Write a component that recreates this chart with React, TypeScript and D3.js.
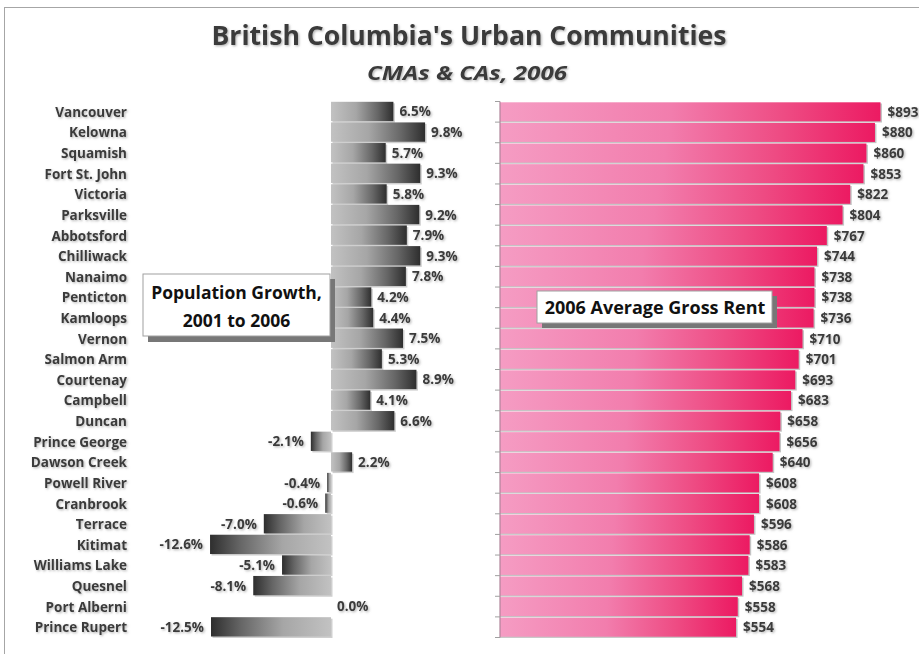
import React from "react";
import * as d3 from "d3";

const categories = [
  "Vancouver", "Kelowna", "Squamish", "Fort St. John", "Victoria", "Parksville",
  "Abbotsford", "Chilliwack", "Nanaimo", "Penticton", "Kamloops", "Vernon",
  "Salmon Arm", "Courtenay", "Campbell", "Duncan", "Prince George", "Dawson Creek",
  "Powell River", "Cranbrook", "Terrace", "Kitimat", "Williams Lake", "Quesnel",
  "Port Alberni", "Prince Rupert",
];
const growth = [
  6.5, 9.8, 5.7, 9.3, 5.8, 9.2, 7.9, 9.3, 7.8, 4.2, 4.4, 7.5, 5.3, 8.9, 4.1, 6.6,
  -2.1, 2.2, -0.4, -0.6, -7.0, -12.6, -5.1, -8.1, 0.0, -12.5,
];
const rent = [
  893, 880, 860, 853, 822, 804, 767, 744, 738, 738, 736, 710, 701, 693, 683, 658,
  656, 640, 608, 608, 596, 586, 583, 568, 558, 554,
];

const W = 919;
const H = 654;
const FONT = "'Open Sans', 'DejaVu Sans', sans-serif";
const TXT = "#3a3a3a";
const LBL = 13.5;

export default function App() {
  const y = d3.scaleBand<string>().domain(categories).range([101.5, 637.5]).padding(0);
  const xg = d3.scaleLinear().domain([-13, 10]).range([331 - 13 * 9.6, 331 + 10 * 9.6]);
  const xr = d3.scaleLinear().domain([0, 1000]).range([500, 500 + (380.5 / 893) * 1000]);
  const bw = y.bandwidth();
  const fmtPct = (v: number) => d3.format(".1f")(v).replace("\u2212", "-") + "%";
  const ticks = d3.range(categories.length + 1).map((i) => 101.5 + i * bw);

  return (
    <svg width={W} height={H} style={{ position: "absolute", left: 0, top: 0 }} fontFamily={FONT}>
      <defs>
        <filter id="ts" x="-20%" y="-40%" width="140%" height="180%">
          <feDropShadow dx="1.2" dy="1.2" stdDeviation="0.9" floodColor="#777" floodOpacity="0.55" />
        </filter>
        <linearGradient id="gpos" x1="0" x2="1" y1="0" y2="0">
          <stop offset="0" stopColor="#c2c2c2" />
          <stop offset="0.4" stopColor="#a6a6a6" />
          <stop offset="0.75" stopColor="#666" />
          <stop offset="1" stopColor="#2e2e2e" />
        </linearGradient>
        <linearGradient id="gneg" x1="1" x2="0" y1="0" y2="0">
          <stop offset="0" stopColor="#c2c2c2" />
          <stop offset="0.4" stopColor="#a6a6a6" />
          <stop offset="0.75" stopColor="#666" />
          <stop offset="1" stopColor="#2e2e2e" />
        </linearGradient>
        <linearGradient id="gpink" x1="0" x2="1" y1="0" y2="0">
          <stop offset="0" stopColor="#f59cc3" />
          <stop offset="0.45" stopColor="#f27dad" />
          <stop offset="0.75" stopColor="#ee4b83" />
          <stop offset="1" stopColor="#ec1a62" />
        </linearGradient>
      </defs>
      <rect x={0} y={0} width={W} height={H} fill="#fff" />
      {/* chart frame */}
      <rect x={4.5} y={7.5} width={W + 10} height={H + 10} fill="none" stroke="#a6a6a6" strokeWidth={1} />

      {/* titles */}
      <text x={469} y={45} textAnchor="middle" fontSize={26} fontWeight="bold" fill={TXT}
        textLength={515} lengthAdjust="spacingAndGlyphs" filter="url(#ts)">
        British Columbia's Urban Communities
      </text>
      <text x={467} y={80} textAnchor="middle" fontSize={20} fontWeight="bold" fontStyle="italic" fill={TXT}
        textLength={200} lengthAdjust="spacingAndGlyphs" filter="url(#ts)">
        CMAs &amp; CAs, 2006
      </text>

      {/* category labels */}
      {categories.map((c) => (
        <text key={c} x={127} y={(y(c) as number) + bw / 2 + 5} textAnchor="end" fontSize={LBL}
          fontWeight="bold" fill={TXT} filter="url(#ts)">
          {c}
        </text>
      ))}

      {/* left: population growth bars */}
      {categories.map((c, i) => {
        const v = growth[i];
        const x0 = xg(Math.min(0, v));
        const x1 = xg(Math.max(0, v));
        const top = (y(c) as number) + 0.3;
        const h = bw - 1.3;
        return (
          <g key={c}>
            {v !== 0 && (
              <>
                <rect x={x0 + 1.5} y={top + 1.5} width={x1 - x0} height={h} fill="#cfcfcf" />
                <rect x={x0} y={top} width={x1 - x0} height={h} fill={v >= 0 ? "url(#gpos)" : "url(#gneg)"} />
              </>
            )}
            <text
              x={v >= 0 ? x1 + 6 : x0 - 7}
              y={top + h / 2 + 5}
              textAnchor={v >= 0 ? "start" : "end"}
              fontSize={LBL}
              fontWeight="bold"
              fill={TXT}
              filter="url(#ts)"
            >
              {fmtPct(v)}
            </text>
          </g>
        );
      })}

      {/* right: rent bars */}
      {categories.map((c, i) => {
        const v = rent[i];
        const top = (y(c) as number) + 0.8;
        const h = bw - 1.6;
        return (
          <g key={c}>
            <rect x={xr(0)} y={top + 1.2} width={xr(v) - xr(0) + 1.5} height={h} fill="#c4c4c4" />
            <rect x={xr(0)} y={top} width={xr(v) - xr(0)} height={h} fill="url(#gpink)" />
            <text x={xr(v) + 7} y={top + h / 2 + 5} fontSize={LBL} fontWeight="bold" fill={TXT} filter="url(#ts)">
              {"$" + v}
            </text>
          </g>
        );
      })}
      {/* right axis */}
      <line x1={500} x2={500} y1={101.5} y2={637.5} stroke="#b0849a" strokeWidth={1.2} />
      {ticks.map((t, i) => (
        <line key={i} x1={495} x2={500} y1={t} y2={t} stroke="#a0a0a0" strokeWidth={1} />
      ))}

      {/* legend boxes */}
      <rect x={148} y={279} width={187} height={63} fill="#777" />
      <rect x={143} y={274} width={187} height={62} fill="#fff" stroke="#a0a0a0" strokeWidth={1} />
      <text x={236.5} y={299} textAnchor="middle" fontSize={17.5} fontWeight="bold" fill="#111">
        Population Growth,
      </text>
      <text x={236.5} y={327} textAnchor="middle" fontSize={17.5} fontWeight="bold" fill="#111">
        2001 to 2006
      </text>

      <rect x={542} y={296} width={235} height={32} fill="#777" />
      <rect x={537} y={291} width={235} height={32} fill="#fff" stroke="#a0a0a0" strokeWidth={1} />
      <text x={655} y={314} textAnchor="middle" fontSize={18} fontWeight="bold" fill="#111">
        2006 Average Gross Rent
      </text>
    </svg>
  );
}
